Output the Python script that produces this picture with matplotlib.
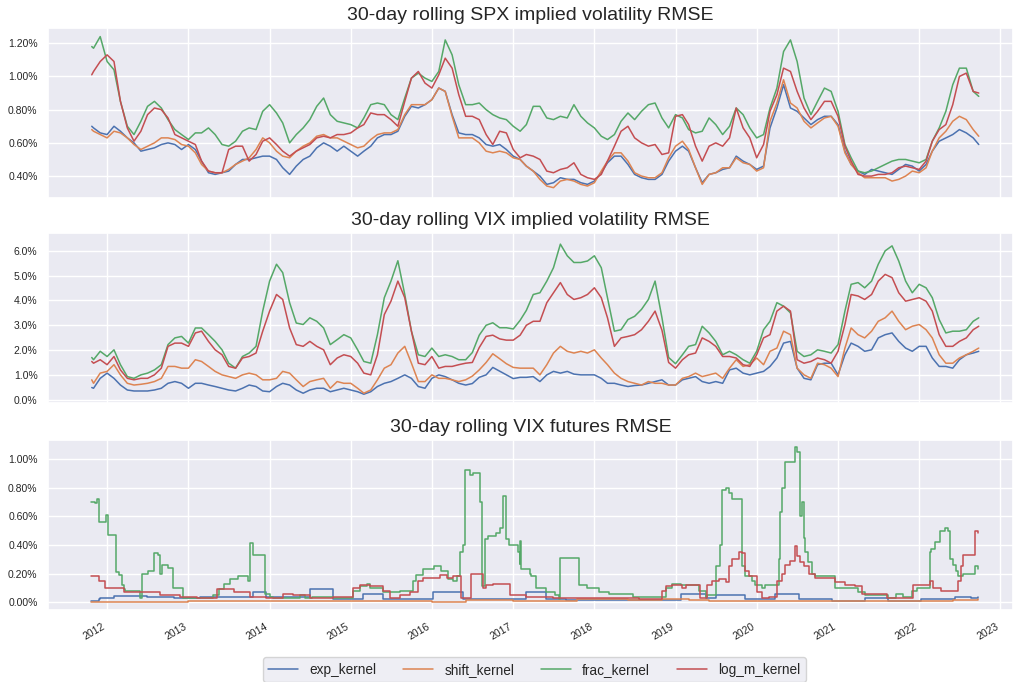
import matplotlib
matplotlib.use("Agg")
import matplotlib.pyplot as plt
import matplotlib.dates as mdates
from matplotlib.ticker import PercentFormatter, MultipleLocator
import pandas as pd
import seaborn as sns

sns.set_theme(style="darkgrid")
plt.rcParams["font.family"] = ["Liberation Sans", "DejaVu Sans"]

# ---------------- data ----------------
labels = ["exp_kernel", "shift_kernel", "frac_kernel", "log_m_kernel"]
titles = ["30-day rolling SPX implied volatility RMSE",
          "30-day rolling VIX implied volatility RMSE",
          "30-day rolling VIX futures RMSE"]

# sample dates for panels 1 and 2 (start, month starts, end)
month_dates = (pd.to_datetime(["2011-10-24"])
               .append(pd.date_range("2011-11-01", "2022-09-01", freq="MS"))
               .append(pd.to_datetime(["2022-09-26"])))

# SPX implied vol RMSE (%)
spx_exp = [0.70, 0.69, 0.66,
           0.65, 0.70, 0.67, 0.63, 0.60, 0.55, 0.56, 0.57, 0.59, 0.60, 0.59, 0.56,
           0.59, 0.56, 0.49, 0.42, 0.41, 0.42, 0.43, 0.47, 0.50, 0.50, 0.51, 0.52,
           0.52, 0.50, 0.45, 0.41, 0.46, 0.50, 0.52, 0.57, 0.60, 0.58, 0.55, 0.58,
           0.55, 0.52, 0.55, 0.58, 0.63, 0.65, 0.65, 0.67, 0.76, 0.82, 0.81, 0.83,
           0.86, 0.93, 0.91, 0.77, 0.66, 0.65, 0.65, 0.63, 0.59, 0.58, 0.59, 0.56,
           0.52, 0.50, 0.46, 0.43, 0.40, 0.35, 0.36, 0.39, 0.38, 0.38, 0.36, 0.35,
           0.37, 0.42, 0.48, 0.52, 0.52, 0.47, 0.41, 0.39, 0.38, 0.38, 0.41, 0.49,
           0.55, 0.58, 0.55, 0.45, 0.36, 0.41, 0.42, 0.44, 0.45, 0.52, 0.49, 0.47,
           0.44, 0.46, 0.69, 0.81, 0.95, 0.81, 0.79, 0.75, 0.71, 0.74, 0.76, 0.76,
           0.71, 0.55, 0.47, 0.43, 0.41, 0.44, 0.43, 0.42, 0.41, 0.44, 0.47, 0.46,
           0.43, 0.47, 0.55, 0.61, 0.63, 0.65, 0.68, 0.66, 0.63,
           0.59]
spx_shift = [0.68, 0.67, 0.65,
             0.63, 0.67, 0.66, 0.63, 0.59, 0.56, 0.58, 0.60, 0.63, 0.63, 0.62, 0.59,
             0.58, 0.54, 0.47, 0.43, 0.42, 0.42, 0.44, 0.47, 0.49, 0.51, 0.56, 0.63,
             0.60, 0.55, 0.52, 0.51, 0.55, 0.58, 0.60, 0.64, 0.65, 0.63, 0.63, 0.61,
             0.59, 0.57, 0.58, 0.62, 0.65, 0.66, 0.66, 0.68, 0.77, 0.83, 0.83, 0.83,
             0.86, 0.93, 0.91, 0.76, 0.63, 0.63, 0.63, 0.60, 0.55, 0.54, 0.55, 0.54,
             0.51, 0.50, 0.46, 0.43, 0.38, 0.34, 0.33, 0.37, 0.38, 0.37, 0.35, 0.34,
             0.36, 0.43, 0.49, 0.54, 0.54, 0.49, 0.42, 0.40, 0.39, 0.39, 0.42, 0.51,
             0.58, 0.61, 0.56, 0.45, 0.35, 0.41, 0.42, 0.45, 0.45, 0.51, 0.48, 0.47,
             0.43, 0.45, 0.73, 0.84, 0.98, 0.84, 0.81, 0.73, 0.69, 0.72, 0.75, 0.76,
             0.70, 0.54, 0.47, 0.42, 0.39, 0.39, 0.39, 0.39, 0.37, 0.38, 0.40, 0.43,
             0.42, 0.45, 0.55, 0.63, 0.67, 0.73, 0.76, 0.74, 0.68,
             0.64]
spx_frac = [1.18, 1.17, 1.24,
            1.09, 1.04, 0.85, 0.70, 0.65, 0.73, 0.82, 0.85, 0.81, 0.74, 0.68, 0.65,
            0.62, 0.66, 0.66, 0.69, 0.65, 0.59, 0.58, 0.61, 0.67, 0.69, 0.68, 0.79,
            0.83, 0.78, 0.72, 0.60, 0.65, 0.69, 0.74, 0.82, 0.87, 0.77, 0.73, 0.72,
            0.71, 0.69, 0.75, 0.83, 0.84, 0.83, 0.77, 0.74, 0.87, 0.99, 1.02, 0.99,
            0.97, 1.03, 1.22, 1.13, 0.95, 0.83, 0.83, 0.84, 0.80, 0.77, 0.75, 0.74,
            0.70, 0.67, 0.71, 0.82, 0.82, 0.75, 0.74, 0.76, 0.75, 0.83, 0.76, 0.72,
            0.69, 0.64, 0.62, 0.65, 0.73, 0.78, 0.74, 0.79, 0.83, 0.84, 0.75, 0.69,
            0.77, 0.75, 0.68, 0.66, 0.67, 0.75, 0.71, 0.65, 0.70, 0.81, 0.77, 0.69,
            0.63, 0.65, 0.81, 0.93, 1.15, 1.22, 1.09, 0.87, 0.77, 0.85, 0.93, 0.91,
            0.79, 0.59, 0.51, 0.43, 0.42, 0.43, 0.45, 0.47, 0.49, 0.50, 0.50, 0.49,
            0.48, 0.50, 0.61, 0.69, 0.79, 0.95, 1.05, 1.05, 0.91,
            0.88]
spx_logm = [1.01, 1.03, 1.09,
            1.13, 1.09, 0.85, 0.69, 0.61, 0.67, 0.77, 0.81, 0.80, 0.75, 0.65, 0.63,
            0.61, 0.59, 0.49, 0.43, 0.42, 0.42, 0.56, 0.58, 0.58, 0.49, 0.53, 0.61,
            0.63, 0.59, 0.55, 0.52, 0.55, 0.57, 0.59, 0.63, 0.64, 0.63, 0.65, 0.65,
            0.66, 0.69, 0.71, 0.78, 0.77, 0.77, 0.74, 0.70, 0.85, 0.99, 1.03, 0.96,
            0.93, 1.01, 1.11, 1.05, 0.89, 0.76, 0.76, 0.74, 0.65, 0.59, 0.67, 0.66,
            0.56, 0.51, 0.53, 0.52, 0.50, 0.43, 0.42, 0.44, 0.45, 0.48, 0.41, 0.39,
            0.38, 0.41, 0.49, 0.58, 0.67, 0.70, 0.63, 0.60, 0.58, 0.59, 0.53, 0.54,
            0.76, 0.77, 0.71, 0.58, 0.49, 0.58, 0.60, 0.58, 0.63, 0.81, 0.69, 0.63,
            0.51, 0.59, 0.79, 0.89, 1.05, 1.03, 0.91, 0.81, 0.74, 0.79, 0.85, 0.85,
            0.76, 0.58, 0.49, 0.41, 0.40, 0.40, 0.41, 0.41, 0.42, 0.45, 0.46, 0.45,
            0.44, 0.49, 0.61, 0.68, 0.71, 0.83, 1.00, 1.02, 0.91,
            0.90]

# VIX implied vol RMSE (%)
vix_exp = [0.49, 0.46, 0.86,
           1.07, 0.86, 0.59, 0.39, 0.35, 0.35, 0.35, 0.39, 0.46, 0.66, 0.73, 0.66,
           0.46, 0.66, 0.66, 0.59, 0.53, 0.46, 0.39, 0.35, 0.46, 0.59, 0.53, 0.35,
           0.32, 0.53, 0.66, 0.59, 0.39, 0.26, 0.39, 0.46, 0.46, 0.32, 0.39, 0.46,
           0.39, 0.32, 0.22, 0.32, 0.53, 0.66, 0.73, 0.86, 1.00, 0.86, 0.53, 0.46,
           0.86, 1.00, 0.93, 0.80, 0.66, 0.59, 0.65, 0.90, 1.00, 1.30, 1.15, 1.00,
           0.85, 0.90, 0.90, 0.93, 0.73, 1.00, 1.14, 1.07, 1.14, 1.03, 1.00, 1.00,
           1.00, 0.86, 0.66, 0.66, 0.59, 0.53, 0.57, 0.59, 0.66, 0.73, 0.80, 0.59,
           0.59, 0.80, 0.86, 0.93, 0.73, 0.66, 0.73, 0.66, 1.20, 1.27, 1.07, 1.00,
           1.07, 1.14, 1.34, 1.68, 2.28, 2.35, 1.27, 0.86, 0.80, 1.41, 1.47, 1.47,
           1.00, 1.81, 2.28, 2.15, 1.95, 2.01, 2.49, 2.62, 2.69, 2.35, 2.08, 1.95,
           2.15, 2.15, 1.68, 1.34, 1.34, 1.27, 1.61, 1.81, 1.88,
           1.95]
vix_shift = [0.80, 0.66, 1.07,
             1.14, 1.41, 1.00, 0.66, 0.59, 0.62, 0.66, 0.73, 0.86, 1.34, 1.34, 1.27,
             1.27, 1.61, 1.54, 1.34, 1.14, 1.00, 0.93, 0.86, 1.00, 1.07, 1.00, 0.80,
             0.80, 0.86, 1.14, 1.07, 0.80, 0.53, 0.73, 0.80, 0.86, 0.46, 0.73, 0.66,
             0.66, 0.46, 0.26, 0.39, 0.80, 1.27, 1.41, 1.88, 2.15, 1.47, 0.73, 0.73,
             1.00, 0.86, 0.86, 0.80, 0.73, 0.80, 0.95, 1.20, 1.50, 1.85, 1.65, 1.45,
             1.30, 1.27, 1.27, 1.27, 1.00, 1.41, 1.88, 2.15, 1.95, 1.88, 1.95, 1.88,
             2.01, 1.68, 1.41, 1.07, 0.86, 0.73, 0.66, 0.59, 0.73, 0.66, 0.66, 0.59,
             0.59, 0.86, 0.93, 1.07, 0.93, 1.00, 1.07, 0.86, 1.27, 1.61, 1.34, 1.41,
             1.68, 1.41, 1.95, 2.08, 2.76, 2.62, 1.27, 1.00, 0.86, 1.47, 1.41, 1.27,
             0.93, 2.08, 2.89, 2.62, 2.49, 2.76, 3.16, 3.30, 3.57, 3.16, 2.82, 2.96,
             3.03, 2.82, 2.49, 1.81, 1.47, 1.47, 1.68, 1.81, 1.95,
             2.08]
vix_frac = [1.70, 1.61, 1.95,
            1.74, 2.01, 1.41, 0.93, 0.86, 1.00, 1.07, 1.20, 1.41, 2.22, 2.49, 2.55,
            2.28, 2.89, 2.89, 2.62, 2.35, 2.01, 1.47, 1.27, 1.74, 1.88, 2.15, 3.57,
            4.78, 5.46, 5.12, 3.91, 3.09, 3.03, 3.30, 3.16, 2.89, 2.22, 2.42, 2.62,
            2.49, 2.01, 1.54, 1.47, 2.62, 4.11, 4.78, 5.60, 4.24, 2.76, 1.81, 1.74,
            2.08, 1.74, 1.81, 1.74, 1.61, 1.61, 1.90, 2.60, 3.00, 3.10, 2.90, 2.90,
            2.85, 3.20, 3.60, 4.24, 4.31, 4.78, 5.32, 6.27, 5.80, 5.53, 5.53, 5.59,
            5.80, 5.32, 4.11, 2.76, 2.82, 3.23, 3.36, 3.64, 4.04, 4.78, 3.30, 1.70,
            1.45, 1.81, 2.15, 2.22, 2.96, 2.69, 2.35, 1.81, 1.95, 1.81, 1.61, 1.47,
            1.95, 2.82, 3.16, 3.91, 3.77, 3.50, 1.95, 1.74, 1.81, 2.01, 1.95, 1.88,
            2.22, 3.57, 4.65, 4.72, 4.51, 4.78, 5.46, 6.00, 6.20, 5.59, 4.78, 4.31,
            4.65, 4.51, 4.11, 3.23, 2.69, 2.76, 2.76, 2.82, 3.16,
            3.30]
vix_logm = [1.54, 1.47, 1.61,
            1.41, 1.74, 1.20, 0.86, 0.80, 0.86, 0.86, 1.00, 1.27, 2.15, 2.28, 2.28,
            2.15, 2.69, 2.76, 2.35, 2.01, 1.81, 1.34, 1.27, 1.68, 1.74, 1.88, 2.76,
            3.57, 4.24, 4.04, 2.89, 2.22, 2.15, 2.35, 2.15, 2.01, 1.41, 1.68, 1.81,
            1.74, 1.47, 1.07, 1.00, 1.81, 3.43, 3.97, 4.78, 4.11, 2.76, 1.47, 1.41,
            1.74, 1.27, 1.34, 1.34, 1.41, 1.47, 1.50, 2.10, 2.55, 2.60, 2.45, 2.40,
            2.40, 2.60, 3.00, 3.16, 3.16, 3.91, 4.31, 4.72, 4.24, 4.04, 4.11, 4.24,
            4.51, 4.11, 3.30, 2.15, 2.49, 2.55, 2.62, 2.82, 3.16, 3.57, 2.80, 1.50,
            1.27, 1.61, 1.81, 1.88, 2.49, 2.35, 2.15, 1.74, 1.74, 1.68, 1.41, 1.34,
            1.81, 2.49, 2.62, 3.57, 3.77, 3.57, 1.61, 1.47, 1.54, 1.68, 1.61, 1.47,
            1.95, 3.03, 4.24, 4.18, 4.04, 4.24, 4.78, 5.05, 4.92, 4.31, 3.97, 4.04,
            4.11, 3.97, 3.57, 2.62, 2.15, 2.15, 2.35, 2.49, 2.82,
            2.96]

# VIX futures RMSE (%) - step series: value holds from each date to the next
fut_exp_dates = ["2011-10-21", "2011-11-24", "2011-12-01", "2012-01-30", "2012-06-27",
                 "2012-10-26", "2013-02-23", "2013-10-20", "2013-12-18", "2014-07-01",
                 "2014-10-15", "2015-02-26", "2015-05-27", "2016-01-06", "2016-05-20",
                 "2017-03-01", "2017-05-30", "2017-08-26", "2019-01-24", "2019-05-16",
                 "2019-06-30", "2019-11-11", "2020-03-25", "2020-07-08", "2020-12-04",
                 "2021-05-03", "2021-08-15", "2022-01-11", "2022-06-10", "2022-08-23",
                 "2022-09-23"]
fut_exp = [0.010, 0.020, 0.030, 0.045, 0.040,
           0.030, 0.040, 0.070, 0.040, 0.090,
           0.020, 0.060, 0.020, 0.070, 0.020,
           0.070, 0.020, 0.015, 0.060, 0.030,
           0.050, 0.020, 0.060, 0.020, 0.010,
           0.030, 0.010, 0.020, 0.040, 0.030,
           0.035]
fut_shift_dates = ["2011-10-21", "2013-01-01", "2014-01-01", "2015-01-01", "2016-01-01",
                   "2016-06-01", "2017-01-01", "2017-10-15", "2018-06-01", "2018-11-01",
                   "2019-03-01", "2019-06-01", "2020-06-01", "2021-06-01", "2022-06-01",
                   "2022-09-23"]
fut_shift = [0.005, 0.010, 0.008, 0.010, 0.005,
             0.015, 0.010, 0.025, 0.015, 0.020,
             0.015, 0.010, 0.008, 0.010, 0.015,
             0.020]
fut_frac_dates = ["2011-10-21", "2011-11-09", "2011-11-16", "2011-11-24", "2011-12-28",
                  "2012-01-03", "2012-02-11", "2012-02-25", "2012-03-08", "2012-03-15",
                  "2012-03-23", "2012-05-29", "2012-06-06", "2012-07-01", "2012-07-31",
                  "2012-08-15", "2012-08-27", "2012-09-04", "2012-10-01", "2012-10-23",
                  "2012-12-07", "2013-04-23", "2013-05-20", "2013-06-10", "2013-07-07",
                  "2013-08-10", "2013-09-27", "2013-10-05", "2013-10-20", "2013-12-11",
                  "2014-01-05", "2014-01-18", "2014-05-18", "2014-06-10", "2014-07-09",
                  "2014-10-15", "2015-01-13", "2015-02-12", "2015-03-13", "2015-03-28",
                  "2015-05-27", "2015-08-10", "2015-10-08", "2015-10-23", "2015-11-22",
                  "2016-01-10", "2016-02-10", "2016-03-14", "2016-04-06", "2016-04-21",
                  "2016-05-05", "2016-05-20", "2016-05-28", "2016-06-20", "2016-07-05",
                  "2016-08-03", "2016-08-15", "2016-08-25", "2016-09-10", "2016-10-17",
                  "2016-11-01", "2016-11-16", "2016-11-28", "2016-12-15", "2017-01-23",
                  "2017-01-30", "2017-02-02", "2017-02-07", "2017-03-16", "2017-03-23",
                  "2017-04-15", "2017-05-30", "2017-07-10", "2017-07-28", "2017-07-31",
                  "2017-10-22", "2017-12-01", "2018-01-24", "2018-03-08", "2018-06-22",
                  "2018-11-18", "2018-12-18", "2019-01-24", "2019-04-16", "2019-05-16",
                  "2019-05-23", "2019-06-30", "2019-07-20", "2019-07-27", "2019-08-14",
                  "2019-08-29", "2019-09-13", "2019-10-27", "2019-11-11", "2019-12-11",
                  "2019-12-26", "2020-01-25", "2020-02-09", "2020-04-09", "2020-04-16",
                  "2020-04-24", "2020-05-09", "2020-06-23", "2020-07-01", "2020-07-15",
                  "2020-07-23", "2020-07-30", "2020-08-07", "2020-08-20", "2020-09-06",
                  "2020-09-21", "2020-12-19", "2021-04-03", "2021-05-03", "2021-08-15",
                  "2021-09-20", "2021-10-20", "2021-11-28", "2021-12-20", "2022-02-18",
                  "2022-02-25", "2022-03-12", "2022-04-04", "2022-04-26", "2022-05-11",
                  "2022-05-19", "2022-06-03", "2022-06-15", "2022-06-25", "2022-07-17",
                  "2022-08-16", "2022-09-07", "2022-09-23"]
fut_frac = [0.70, 0.69, 0.72, 0.56, 0.61,
            0.47, 0.21, 0.19, 0.12, 0.09,
            0.08, 0.03, 0.20, 0.22, 0.34,
            0.33, 0.20, 0.26, 0.24, 0.10,
            0.03, 0.05, 0.09, 0.13, 0.16,
            0.18, 0.15, 0.41, 0.33, 0.06,
            0.04, 0.03, 0.05, 0.03, 0.04,
            0.03, 0.08, 0.11, 0.13, 0.10,
            0.07, 0.08, 0.15, 0.19, 0.23,
            0.25, 0.22, 0.16, 0.15, 0.18,
            0.35, 0.40, 0.92, 0.89, 0.90,
            0.70, 0.11, 0.44, 0.46, 0.48,
            0.52, 0.74, 0.44, 0.40, 0.35,
            0.27, 0.43, 0.23, 0.20, 0.18,
            0.10, 0.07, 0.05, 0.02, 0.31,
            0.12, 0.10, 0.07, 0.06, 0.04,
            0.10, 0.13, 0.12, 0.08, 0.04,
            0.05, 0.25, 0.40, 0.78, 0.80,
            0.76, 0.72, 0.25, 0.18, 0.15,
            0.12, 0.10, 0.12, 0.30, 0.63,
            0.80, 0.98, 1.08, 1.05, 0.60,
            0.70, 0.45, 0.35, 0.28, 0.20,
            0.18, 0.10, 0.07, 0.05, 0.03,
            0.06, 0.04, 0.08, 0.10, 0.35,
            0.37, 0.42, 0.50, 0.52, 0.50,
            0.30, 0.26, 0.22, 0.18, 0.20,
            0.20, 0.25, 0.23]
fut_logm_dates = ["2011-10-21", "2011-11-24", "2011-12-23", "2012-03-15", "2012-08-27",
                  "2012-11-25", "2013-02-08", "2013-05-09", "2013-07-23", "2013-10-05",
                  "2013-12-18", "2014-03-04", "2014-04-18", "2014-07-01", "2014-10-15",
                  "2015-01-13", "2015-02-12", "2015-03-28", "2015-05-27", "2015-06-26",
                  "2015-08-10", "2015-09-23", "2015-10-31", "2015-11-22", "2016-02-05",
                  "2016-03-07", "2016-04-06", "2016-05-13", "2016-06-27", "2016-08-18",
                  "2016-09-02", "2016-10-03", "2016-12-16", "2017-03-01", "2017-06-28",
                  "2018-07-21", "2018-11-02", "2018-11-18", "2018-12-18", "2019-02-01",
                  "2019-02-16", "2019-04-23", "2019-05-23", "2019-06-15", "2019-07-15",
                  "2019-08-14", "2019-08-29", "2019-09-13", "2019-10-12", "2019-10-27",
                  "2019-11-11", "2019-11-26", "2020-01-03", "2020-01-25", "2020-02-24",
                  "2020-04-02", "2020-04-24", "2020-05-09", "2020-06-01", "2020-06-23",
                  "2020-06-30", "2020-07-15", "2020-07-30", "2020-08-22", "2020-09-21",
                  "2020-12-19", "2021-02-02", "2021-03-18", "2021-04-18", "2021-08-08",
                  "2021-12-05", "2022-02-18", "2022-03-04", "2022-04-11", "2022-06-25",
                  "2022-07-10", "2022-07-17", "2022-09-07", "2022-09-23"]
fut_logm = [0.18, 0.15, 0.10, 0.07, 0.05,
            0.04, 0.03, 0.09, 0.07, 0.04,
            0.03, 0.06, 0.05, 0.03, 0.04,
            0.10, 0.12, 0.11, 0.08, 0.03,
            0.05, 0.07, 0.15, 0.17, 0.19,
            0.17, 0.18, 0.03, 0.20, 0.10,
            0.12, 0.13, 0.05, 0.04, 0.03,
            0.02, 0.08, 0.11, 0.12, 0.10,
            0.12, 0.03, 0.12, 0.15, 0.16,
            0.14, 0.25, 0.30, 0.35, 0.34,
            0.22, 0.18, 0.07, 0.03, 0.04,
            0.15, 0.20, 0.26, 0.29, 0.39,
            0.32, 0.28, 0.25, 0.20, 0.17,
            0.14, 0.12, 0.11, 0.06, 0.03,
            0.12, 0.15, 0.10, 0.08, 0.15,
            0.25, 0.33, 0.50, 0.48]

# ---------------- figure ----------------
colors = sns.color_palette("deep", 4)
fig = plt.figure(figsize=(10.14, 6.82), dpi=100)
left, width, height = 0.0473, 0.9517, 0.2493
ax1 = fig.add_axes([left, 0.7097, width, height])
ax2 = fig.add_axes([left, 0.4091, width, height], sharex=ax1)
ax3 = fig.add_axes([left, 0.1056, width, height], sharex=ax1)

for ser, c, lab in zip([spx_exp, spx_shift, spx_frac, spx_logm], colors, labels):
    ax1.plot(month_dates, ser, color=c, lw=1.1, label=lab)
for ser, c, lab in zip([vix_exp, vix_shift, vix_frac, vix_logm], colors, labels):
    ax2.plot(month_dates, ser, color=c, lw=1.1, label=lab)
fut = [(fut_exp_dates, fut_exp), (fut_shift_dates, fut_shift),
       (fut_frac_dates, fut_frac), (fut_logm_dates, fut_logm)]
for (d, v), c, lab in zip(fut, colors, labels):
    ax3.plot(pd.to_datetime(d), v, color=c, lw=1.1, label=lab, drawstyle="steps-post")

ax1.set_ylim(0.268, 1.292)
ax2.set_ylim(-0.134, 6.72)
ax3.set_ylim(-0.054, 1.132)
ax1.yaxis.set_major_locator(MultipleLocator(0.2))
ax2.yaxis.set_major_locator(MultipleLocator(1.0))
ax3.yaxis.set_major_locator(MultipleLocator(0.2))
ax1.yaxis.set_major_formatter(PercentFormatter(100, decimals=2))
ax2.yaxis.set_major_formatter(PercentFormatter(100, decimals=1))
ax3.yaxis.set_major_formatter(PercentFormatter(100, decimals=2))

ax1.set_xlim(pd.Timestamp("2011-04-10"), pd.Timestamp("2023-02-27"))
ax3.xaxis.set_major_locator(mdates.YearLocator())
ax3.xaxis.set_major_formatter(mdates.DateFormatter("%Y"))

for ax, t in zip([ax1, ax2, ax3], titles):
    ax.set_title(t, fontsize=14, pad=6)
    ax.tick_params(axis="y", labelsize=7.5, pad=1.5)
    ax.tick_params(axis="x", labelsize=7.5, pad=2)
for ax in [ax1, ax2]:
    plt.setp(ax.get_xticklabels(), visible=False)
plt.setp(ax3.get_xticklabels(), rotation=30, ha="right")

handles, labs = ax1.get_legend_handles_labels()
fig.legend(handles, labs, loc="center", bbox_to_anchor=(0.527, 0.018), ncol=4,
           fontsize=9.8, frameon=True, columnspacing=2.0, handlelength=2.2)

fig.savefig("out.png", dpi=100)
